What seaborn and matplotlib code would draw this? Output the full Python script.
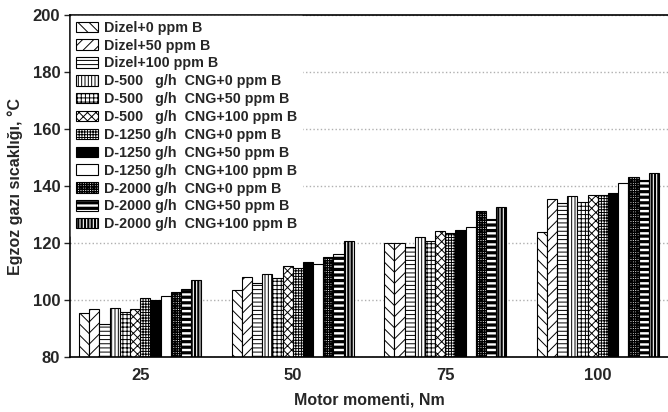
import matplotlib
matplotlib.use("Agg")
import matplotlib as mpl
import matplotlib.pyplot as plt
import matplotlib.patches as mpatches
import seaborn as sns
import pandas as pd

torques = ["25", "50", "75", "100"]
series = [
    "Dizel+0 ppm B",
    "Dizel+50 ppm B",
    "Dizel+100 ppm B",
    "D-500   g/h  CNG+0 ppm B",
    "D-500   g/h  CNG+50 ppm B",
    "D-500   g/h  CNG+100 ppm B",
    "D-1250 g/h  CNG+0 ppm B",
    "D-1250 g/h  CNG+50 ppm B",
    "D-1250 g/h  CNG+100 ppm B",
    "D-2000 g/h  CNG+0 ppm B",
    "D-2000 g/h  CNG+50 ppm B",
    "D-2000 g/h  CNG+100 ppm B",
]
t25 = [95.3, 96.8, 91.5, 97.1, 95.8, 96.8, 100.6, 100.0, 101.4, 102.8, 103.9, 107.0]
t50 = [103.5, 108.0, 106.0, 109.0, 107.6, 111.8, 111.3, 113.2, 112.8, 115.1, 116.0, 120.7]
t75 = [119.9, 120.0, 118.6, 122.1, 120.7, 124.2, 123.5, 124.4, 125.6, 131.1, 128.5, 132.8]
t100 = [123.7, 135.3, 133.9, 136.5, 134.5, 136.7, 136.7, 137.7, 141.2, 143.0, 142.0, 144.6]
yticks = [80, 100, 120, 140, 160, 180, 200]

values = [t25, t50, t75, t100]
rows = []
for t, vals in zip(torques, values):
    for s, v in zip(series, vals):
        rows.append({"torque": t, "series": s, "temp": v})
df = pd.DataFrame(rows)

# style per series: facecolor, hatch, hatch linewidth
styles = [
    ("white", "\\\\\\", 0.7),
    ("white", "///", 0.7),
    ("white", "----", 0.7),
    ("white", "|||||", 0.7),
    ("white", "++++", 0.7),
    ("white", "xxxx", 0.7),
    ("white", "++++++", 0.7),
    ("black", "", 0.7),
    ("white", "", 0.7),
    ("white", "+++++++", 1.0),
    ("white", "---", 2.3),
    ("white", "|||||", 1.6),
]


def apply_hatch_lw(artist, lw):
    if hasattr(artist, "set_hatch_linewidth"):
        try:
            artist.set_hatch_linewidth(lw)
        except Exception:
            pass
    if hasattr(artist, "_hatch_linewidth"):
        artist._hatch_linewidth = lw
    orig_draw = artist.draw

    def draw(renderer, _orig=orig_draw, _lw=lw):
        with mpl.rc_context({"hatch.linewidth": _lw}):
            return _orig(renderer)
    artist.draw = draw


sns.set_style("ticks")
plt.rcParams["font.family"] = ["Liberation Sans", "DejaVu Sans"]
plt.rcParams["font.weight"] = "bold"
plt.rcParams["hatch.linewidth"] = 0.7

fig = plt.figure(figsize=(6.68, 4.12), dpi=100)
ax = fig.add_axes([0.1048, 0.1335, 0.8975, 0.830])

palette = {s: st[0] for s, st in zip(series, styles)}
sns.barplot(data=df, x="torque", y="temp", hue="series", hue_order=series,
            order=torques, palette=palette, edgecolor="black", linewidth=0.8,
            width=0.8, errorbar=None, legend=False, ax=ax, saturation=1)

for cont, (fc, hatch, hlw) in zip(ax.containers, styles):
    for p in cont.patches:
        p.set_facecolor(fc)
        p.set_hatch(hatch)
        apply_hatch_lw(p, hlw)

ax.set_ylim(80, 200)
ax.set_yticks(yticks)
ax.set_xlim(-0.46, 3.47)
ax.yaxis.grid(True, linestyle=":", color="#b0b0b0", linewidth=1.0)
ax.set_axisbelow(True)
for sp in ax.spines.values():
    sp.set_visible(True)
    sp.set_linewidth(1.2)
    sp.set_color("black")

ax.tick_params(axis="y", direction="out", length=4, width=1, pad=3, labelsize=12)
ax.tick_params(axis="x", length=0, pad=8, labelsize=12)
for lab in ax.get_xticklabels() + ax.get_yticklabels():
    lab.set_fontweight("bold")

ax.set_xlabel("Motor momenti, Nm", fontsize=11.5, fontweight="bold", labelpad=7)
ax.set_ylabel("Egzoz gazı sıcaklığı, °C", fontsize=11.5, fontweight="bold", labelpad=7)

handles = []
for s, (fc, hatch, hlw) in zip(series, styles):
    h = mpatches.Patch(facecolor=fc, edgecolor="black", hatch=hatch, linewidth=0.8, label=s)
    handles.append(h)
leg = ax.legend(handles=handles, loc="upper left", bbox_to_anchor=(0.0, 1.0),
                borderaxespad=0.1, borderpad=0.3, frameon=True, fancybox=False,
                framealpha=1, edgecolor="white", facecolor="white",
                prop={"size": 10.3, "weight": "bold"}, handlelength=1.55,
                handleheight=0.75, handletextpad=0.45, labelspacing=0.27)
for h, (fc, hatch, hlw) in zip(leg.legend_handles, styles):
    apply_hatch_lw(h, hlw)

fig.savefig("out.png", dpi=100)
